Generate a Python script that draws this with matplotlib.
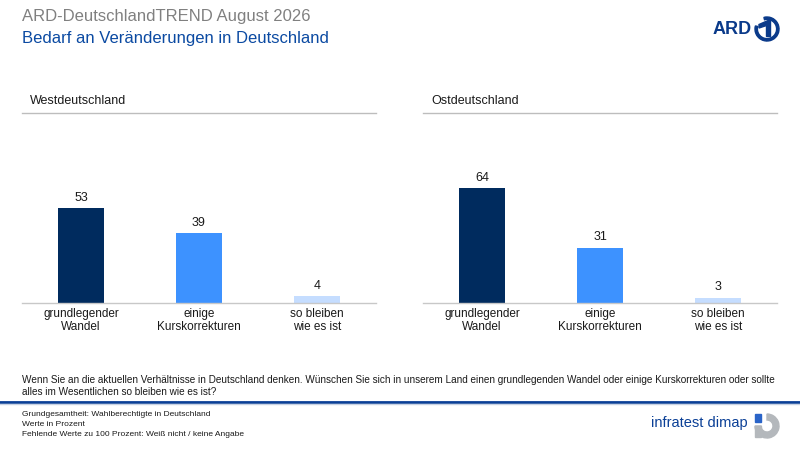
import matplotlib
matplotlib.use("Agg")
import matplotlib.pyplot as plt
from matplotlib.patches import Wedge, Rectangle, Polygon
from matplotlib.lines import Line2D

plt.rcParams['font.family'] = ['Liberation Sans', 'DejaVu Sans']

# ---- data ----
categories = ["grundlegender\nWandel", "einige\nKurskorrekturen", "so bleiben\nwie es ist"]
west_values = [53, 39, 4]
ost_values = [64, 31, 3]
panel_titles = ["Westdeutschland", "Ostdeutschland"]
bar_colors = ["#002b5e", "#3d92ff", "#c5ddff"]

title = "ARD-DeutschlandTREND August 2026"
subtitle = "Bedarf an Veränderungen in Deutschland"
question = ("Wenn Sie an die aktuellen Verhältnisse in Deutschland denken. Wünschen Sie sich in unserem Land einen grundlegenden Wandel oder einige Kurskorrekturen oder sollte\n"
            "alles im Wesentlichen so bleiben wie es ist?")
footnotes = ["Grundgesamtheit: Wahlberechtigte in Deutschland",
             "Werte in Prozent",
             "Fehlende Werte zu 100 Prozent: Weiß nicht / keine Angabe"]

W, H = 800, 450
fig = plt.figure(figsize=(8, 4.5), dpi=100)
fig.patch.set_facecolor("white")

def fx(px):
    return px / W

def fy(py):
    return 1 - py / H

# titles
fig.text(fx(22), fy(17), title, fontsize=12, color="#808080", va="center", ha="left")
fig.text(fx(22), fy(39), subtitle, fontsize=12, color="#0b4aa2", va="center", ha="left")

# panels
panel_left = [22, 423]
panel_w = 354
base_y = 303
ax_h = 179
for i, (vals, ptitle) in enumerate(zip([west_values, ost_values], panel_titles)):
    left = panel_left[i]
    ax = fig.add_axes([fx(left), fy(base_y), panel_w / W, ax_h / H])
    x = list(range(len(categories)))
    bars = ax.bar(x, vals, width=0.39, color=bar_colors, zorder=2)
    ax.set_xlim(-0.5, 2.5)
    ax.set_ylim(0, 100)
    for s in ["top", "right", "left"]:
        ax.spines[s].set_visible(False)
    ax.spines["bottom"].set_color("#c8c8c8")
    ax.spines["bottom"].set_linewidth(1.0)
    ax.set_yticks([])
    ax.set_xticks(x)
    ax.set_xticklabels(categories, fontsize=8.5, color="#1a1a1a", linespacing=1.15)
    ax.tick_params(axis="x", length=0, pad=3.5)
    for b, v in zip(bars, vals):
        ax.annotate(str(v), (b.get_x() + b.get_width() / 2, v), xytext=(0, 3),
                    textcoords="offset points", ha="center", va="bottom",
                    fontsize=9, color="#1a1a1a")
    ax.patch.set_alpha(0)
    # panel header
    fig.text(fx(left + 8), fy(101), ptitle, fontsize=9, color="#1a1a1a", va="center", ha="left")
    fig.add_artist(Line2D([fx(left), fx(left + panel_w)], [fy(113), fy(113)],
                          color="#bdbdbd", linewidth=1.0))

# question
fig.text(fx(22), fy(386), question, fontsize=7.2, color="#1a1a1a", va="center", ha="left",
         linespacing=1.35)

# bottom rule
fig.add_artist(Line2D([0, 1], [fy(401.5), fy(401.5)], color="#0a3f96", linewidth=2.0))
fig.add_artist(Line2D([0, 1], [fy(403.8), fy(403.8)], color="#c9d3e3", linewidth=1.0))

# footnotes
for j, t in enumerate(footnotes):
    fig.text(fx(22), fy(415 + j * 9.8), t, fontsize=6.0, color="#1a1a1a", va="center", ha="left")

# ARD logo
fig.text(fx(752), fy(29), "ARD", fontsize=13, fontweight="bold", color="#0a3a8a",
         va="center", ha="right")
lax = fig.add_axes([fx(753), fy(43), 28 / W, 28 / H])
lax.set_xlim(0, 28)
lax.set_ylim(0, 28)
lax.set_aspect("equal")
lax.axis("off")
lax.add_patch(Wedge((14, 14), 12, 165, 465, width=2.4, color="#0a3a8a"))
lax.add_patch(Polygon([[6, 18.5], [17.5, 23.5], [17.5, 6.5], [13.5, 6.5], [13.5, 17.5], [6, 15]],
                      closed=True, color="#0a3a8a"))

# infratest dimap logo
fig.text(fx(748), fy(423), "infratest dimap", fontsize=10.5, color="#0a3f96",
         va="center", ha="right")
iax = fig.add_axes([fx(752), fy(439), 28 / W, 28 / H])
iax.set_xlim(0, 28)
iax.set_ylim(0, 28)
iax.set_aspect("equal")
iax.axis("off")
iax.add_patch(Wedge((15, 13), 12, 180, 450, width=6, color="#b4b8bc"))
iax.add_patch(Rectangle((3, 2), 6, 11, color="#b4b8bc"))
iax.add_patch(Rectangle((3, 17), 6, 8, color="#2a64c8"))

fig.savefig("out.png", dpi=100, facecolor="white")
